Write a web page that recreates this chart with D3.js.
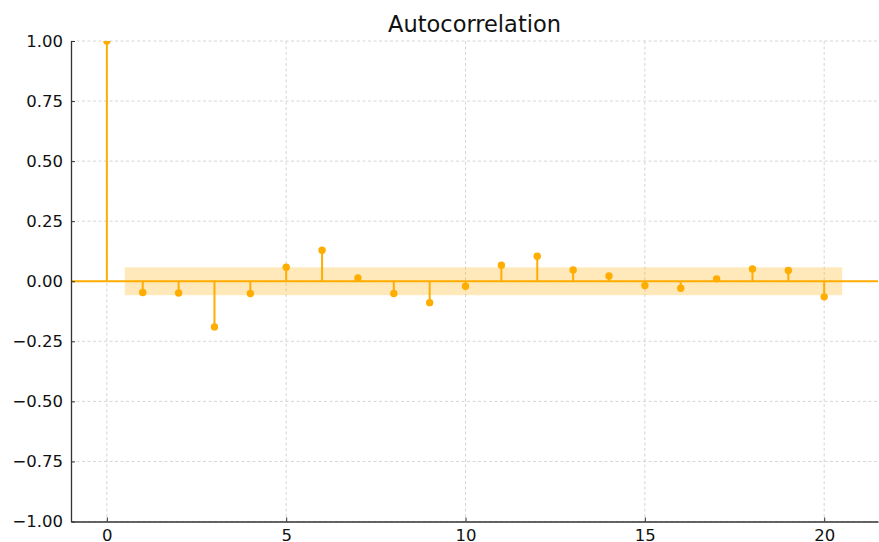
<!DOCTYPE html>
<html>
<head>
<meta charset="utf-8">
<script src="https://cdn.jsdelivr.net/npm/d3@7"></script>
<style>
  html, body { margin: 0; padding: 0; background: #fff; }
  svg { display: block; font-family: "DejaVu Sans", sans-serif; }
</style>
</head>
<body>
<svg id="chart" width="879" height="542"></svg>
<script>
// Autocorrelation values by lag
const lags = [0, 1, 2, 3, 4, 5, 6, 7, 8, 9, 10, 11, 12, 13, 14, 15, 16, 17, 18, 19, 20];
const acfValues = [1.0, -0.047, -0.049, -0.19, -0.051, 0.058, 0.129, 0.014, -0.051, -0.089,
                   -0.021, 0.067, 0.104, 0.047, 0.022, -0.018, -0.029, 0.010, 0.051, 0.045, -0.065];
// Confidence band half-width (lags 1..20)
const confBand = 0.058;
const xTicks = [0, 5, 10, 15, 20];
const yTicks = [-1.0, -0.75, -0.5, -0.25, 0.0, 0.25, 0.5, 0.75, 1.0];
const titleText = "Autocorrelation";

const color = "#FFAD00";
const svg = d3.select("#chart");

const plotLeft = 71, plotRight = 878, plotTop = 41, plotBottom = 521.5;
const x = d3.scaleLinear().domain([-1, 21.5]).range([plotLeft, plotRight]);
const y = d3.scaleLinear().domain([-1, 1]).range([plotBottom, plotTop]);

svg.append("defs").append("clipPath").attr("id", "plotClip")
  .append("rect").attr("x", plotLeft).attr("y", plotTop)
  .attr("width", plotRight - plotLeft).attr("height", plotBottom - plotTop);

// Grid
const grid = svg.append("g").attr("stroke", "#cccccc").attr("stroke-width", 0.8).attr("stroke-dasharray", "3,2.5");
grid.selectAll(".gx").data(xTicks).join("line")
  .attr("x1", d => x(d)).attr("x2", d => x(d)).attr("y1", plotTop).attr("y2", plotBottom);
grid.selectAll(".gy").data(yTicks).join("line")
  .attr("x1", plotLeft).attr("x2", plotRight).attr("y1", d => y(d)).attr("y2", d => y(d));

const plot = svg.append("g").attr("clip-path", "url(#plotClip)");

// Confidence band
plot.append("rect")
  .attr("x", x(0.5)).attr("width", x(20.5) - x(0.5))
  .attr("y", y(confBand)).attr("height", y(-confBand) - y(confBand))
  .attr("fill", color).attr("fill-opacity", 0.27);

// Zero line
plot.append("line")
  .attr("x1", plotLeft).attr("x2", plotRight).attr("y1", y(0)).attr("y2", y(0))
  .attr("stroke", color).attr("stroke-width", 2.2);

// Stems
const data = lags.map((l, i) => ({ lag: l, v: acfValues[i] }));
plot.selectAll(".stem").data(data).join("line")
  .attr("x1", d => x(d.lag)).attr("x2", d => x(d.lag))
  .attr("y1", y(0)).attr("y2", d => y(d.v))
  .attr("stroke", color).attr("stroke-width", 2);

// Markers
plot.selectAll(".dot").data(data).join("circle")
  .attr("cx", d => x(d.lag)).attr("cy", d => y(d.v)).attr("r", 3.7)
  .attr("fill", color);

// Axes
const xAxis = d3.axisBottom(x).tickValues(xTicks).tickFormat(d3.format("d"))
  .tickSizeInner(-4).tickSizeOuter(0).tickPadding(8);
const gx = svg.append("g").attr("transform", `translate(0,${plotBottom})`).call(xAxis);
const yAxis = d3.axisLeft(y).tickValues(yTicks).tickFormat(d3.format(".2f"))
  .tickSizeInner(-4).tickSizeOuter(0).tickPadding(8);
const gy = svg.append("g").attr("transform", `translate(${plotLeft},0)`).call(yAxis);

[gx, gy].forEach(g => {
  g.select(".domain").attr("stroke", "#333").attr("stroke-width", 1.3);
  g.selectAll(".tick line").attr("stroke", "#333").attr("stroke-width", 1);
  g.selectAll(".tick text").attr("fill", "#111").attr("font-size", 16.5)
    .attr("font-family", "DejaVu Sans, sans-serif");
});
gy.selectAll(".tick text").text(d => d.toFixed(2).replace("-", "\u2212"));

// Title
svg.append("text")
  .attr("x", (plotLeft + plotRight) / 2).attr("y", 32)
  .attr("text-anchor", "middle").attr("font-size", 22.5).attr("fill", "#111")
  .text(titleText);
</script>
</body>
</html>
